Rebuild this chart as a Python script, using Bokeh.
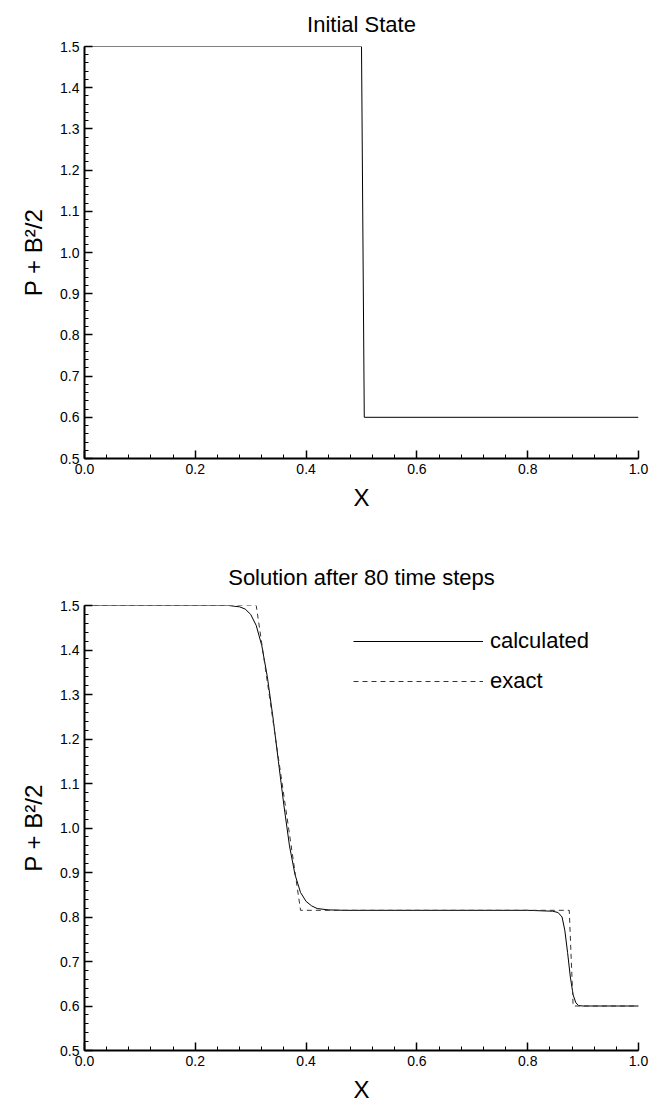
from bokeh.plotting import figure
from bokeh.layouts import column
from bokeh.models import Range1d, SingleIntervalTicker, Legend, LegendItem, PrintfTickFormatter
from bokeh.embed import file_html
from bokeh.resources import INLINE

FONT = "Liberation Sans"

# Initial state
init_x = [0.0, 0.5, 0.505, 1.0]
init_y = [1.5, 1.5, 0.6, 0.6]

# Calculated solution after 80 time steps
calc_x = [0.0, 0.26, 0.28, 0.29, 0.30, 0.31, 0.32, 0.33, 0.34, 0.35, 0.36, 0.37,
          0.38, 0.39, 0.40, 0.41, 0.42, 0.44, 0.47, 0.60, 0.80, 0.845, 0.855,
          0.862, 0.867, 0.872, 0.877, 0.882, 0.887, 0.892, 0.90, 1.0]
calc_y = [1.5, 1.5, 1.497, 1.492, 1.48, 1.455, 1.41, 1.34, 1.25, 1.15, 1.05, 0.96,
          0.895, 0.855, 0.835, 0.825, 0.819, 0.816, 0.815, 0.815, 0.815, 0.813, 0.81,
          0.80, 0.77, 0.72, 0.665, 0.625, 0.607, 0.601, 0.60, 0.60]

# Exact solution
exact_x = [0.0, 0.31, 0.39, 0.875, 0.882, 1.0]
exact_y = [1.5, 1.5, 0.815, 0.815, 0.60, 0.60]

W = 653


def style(p, title, standoff):
    p.title.text = title
    p.title.text_font = FONT
    p.title.text_font_size = "22px"
    p.title.text_font_style = "normal"
    p.title.align = "center"
    p.title.text_color = "black"
    p.title.standoff = standoff
    p.outline_line_color = None
    p.xgrid.visible = False
    p.ygrid.visible = False
    p.x_range = Range1d(0, 1)
    p.y_range = Range1d(0.5, 1.5)
    p.xaxis.ticker = SingleIntervalTicker(interval=0.2, num_minor_ticks=5)
    p.yaxis.ticker = SingleIntervalTicker(interval=0.1, num_minor_ticks=5)
    for ax in (p.xaxis[0], p.yaxis[0]):
        ax.formatter = PrintfTickFormatter(format="%.1f")
        ax.major_tick_in = 8
        ax.major_tick_out = 0
        ax.minor_tick_in = 4
        ax.minor_tick_out = 0
        ax.axis_line_width = 2
        ax.axis_line_color = "black"
        ax.major_tick_line_color = "black"
        ax.minor_tick_line_color = "black"
        ax.major_tick_line_width = 1.5
        ax.major_label_text_font = FONT
        ax.major_label_text_font_size = "14px"
        ax.major_label_text_color = "black"
        ax.axis_label_text_font = FONT
        ax.axis_label_text_font_size = "24px"
        ax.axis_label_text_font_style = "normal"
        ax.axis_label_text_color = "black"
        ax.major_label_standoff = 5
    p.xaxis.axis_label = "X"
    p.yaxis.axis_label = "P + B\u00b2/2"
    p.xaxis.axis_label_standoff = 7
    p.yaxis.axis_label_standoff = 10


p1 = figure(width=W, height=530, output_backend="svg", toolbar_location=None,
            min_border_left=84, min_border_right=15, min_border_top=44, min_border_bottom=72)
style(p1, "Initial State", 19)
p1.line(init_x, init_y, line_color="black", line_width=1)

p2 = figure(width=W, height=579, output_backend="svg", toolbar_location=None,
            min_border_left=84, min_border_right=15, min_border_top=75, min_border_bottom=59)
style(p2, "Solution after 80 time steps", 32)
r_calc = p2.line(calc_x, calc_y, line_color="black", line_width=1)
r_exact = p2.line(exact_x, exact_y, line_color="#333333", line_width=1, line_dash="5 4")

legend = Legend(items=[LegendItem(label="calculated", renderers=[r_calc]),
                       LegendItem(label="exact", renderers=[r_exact])],
                location=(269, 356), glyph_width=130, glyph_height=24,
                label_height=24,
                label_text_font=FONT, label_text_font_size="22px",
                label_text_color="black",
                label_standoff=7, spacing=14, border_line_color=None,
                background_fill_alpha=0, padding=0, margin=0)
p2.add_layout(legend)

layout = column(p1, p2, spacing=0)
open("out.html", "w").write(file_html(layout, INLINE))
